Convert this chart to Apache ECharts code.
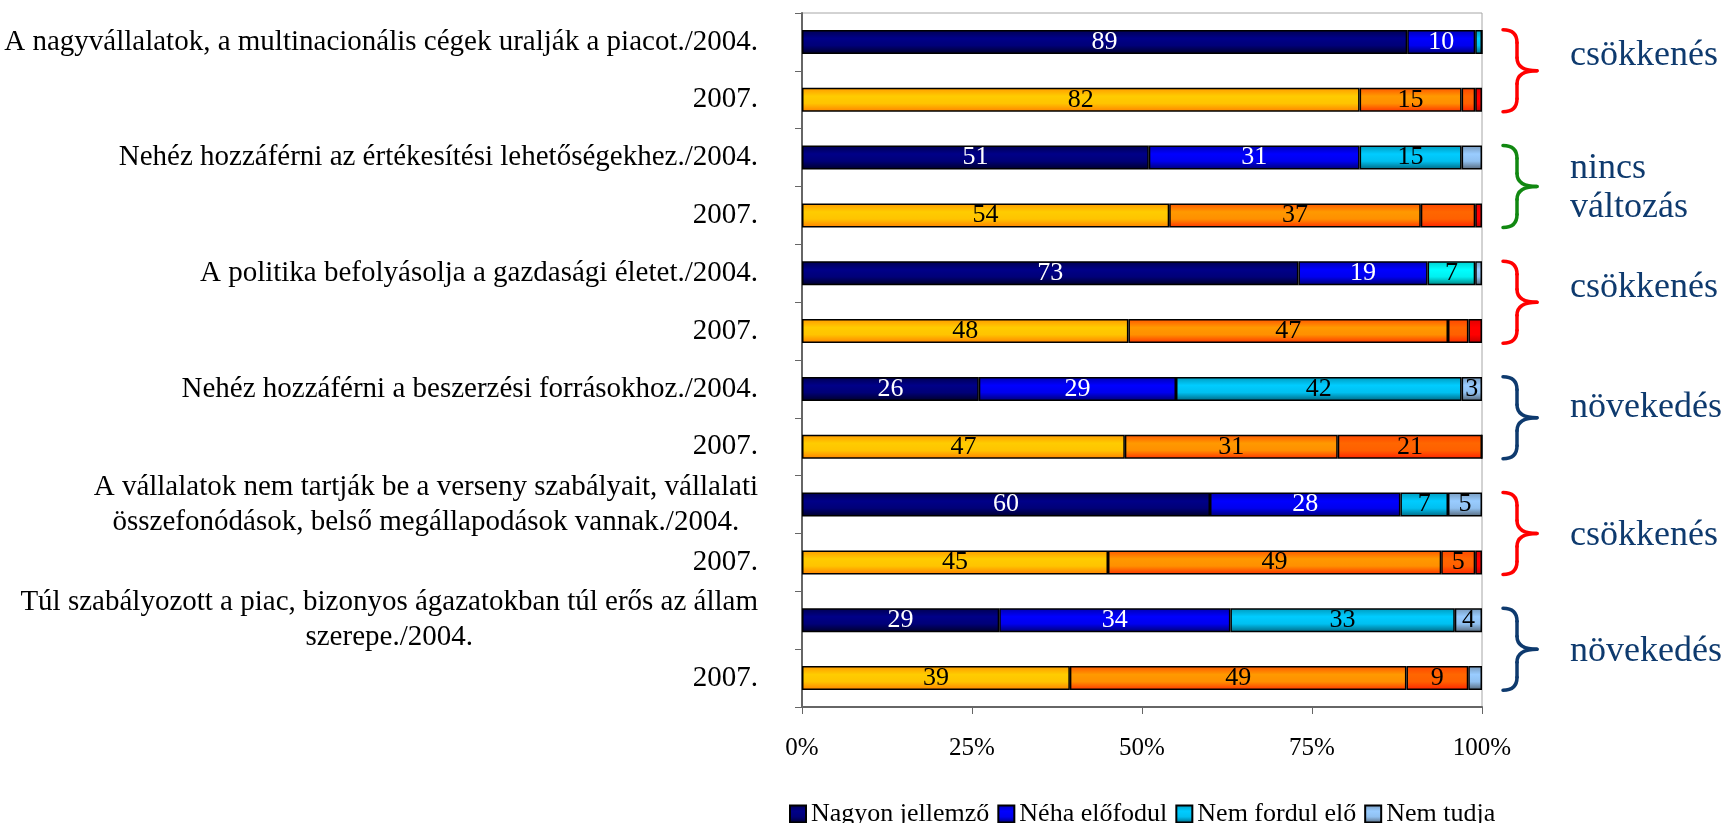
<!DOCTYPE html>
<html>
<head>
<meta charset="utf-8">
<script src="https://cdn.jsdelivr.net/npm/echarts@6/dist/echarts.min.js"></script>
<style>
  html, body { margin: 0; padding: 0; background: #fff; }
  #main { width: 1730px; height: 823px; }
</style>
</head>
<body>
<div id="main"></div>
<script>
// categories, top to bottom
const categories = [
  'A nagyvállalatok, a multinacionális cégek uralják a piacot./2004.',
  '2007.',
  'Nehéz hozzáférni az értékesítési lehetőségekhez./2004.',
  '2007.',
  'A politika befolyásolja a gazdasági életet./2004.',
  '2007.',
  'Nehéz hozzáférni a beszerzési forrásokhoz./2004.',
  '2007.',
  'A vállalatok nem tartják be a verseny szabályait, vállalati\nösszefonódások, belső megállapodások vannak./2004.',
  '2007.',
  'Túl szabályozott a piac, bizonyos ágazatokban túl erős az állam\nszerepe./2004.',
  '2007.'
]

const seriesNames = ['Nagyon jellemző', 'Néha előfodul', 'Nem fordul elő', 'Nem tudja']

const nagyonJellemzo = [89, 82, 51, 54, 73, 48, 26, 47, 60, 45, 29, 39]
const nehaElofodul = [10, 15, 31, 37, 19, 47, 29, 31, 28, 49, 34, 49]
const nemFordulElo = [1, 2, 15, 8, 7, 3, 42, 21, 7, 5, 33, 9]
const nemTudja = [0, 1, 3, 1, 1, 2, 3, 0, 5, 1, 4, 2]

// labels the original chart leaves out: [row, series]
const hiddenLabels = [[2, 3], [3, 2], [5, 2]]

const xTicks = [0, 25, 50, 75, 100]

// annotation braces on the right
const noteRows = [[0, 1], [2, 3], [4, 5], [6, 7], [8, 9], [10, 11]]
const noteTexts = ['csökkenés', 'nincs\nváltozás', 'csökkenés', 'növekedés', 'csökkenés', 'növekedés']
const noteBraceColors = ['#FF0000', '#118811', '#FF0000', '#0E3A6E', '#FF0000', '#0E3A6E']
const noteTextShift = [-15, 2, -15, -10, 2, 2]

const FONT = 'Liberation Serif'

function grad(stops) {
  return new echarts.graphic.LinearGradient(0, 0, 0, 1, [
    { offset: 0, color: stops[0] },
    { offset: 0.35, color: stops[1] },
    { offset: 0.65, color: stops[2] },
    { offset: 1, color: stops[3] }
  ])
}

const fills = {
  navy: grad(['#000050', '#000088', '#000078', '#000028']),
  blue: grad(['#0000B0', '#0000FF', '#0000EE', '#000070']),
  cyan: grad(['#0099BB', '#00CCFF', '#00C0F0', '#006680']),
  cyanBright: grad(['#00CCCC', '#00FFFF', '#00F0F0', '#008080']),
  light: grad(['#7799BB', '#99CCFF', '#90C0F0', '#556677']),
  yellow: grad(['#FF9900', '#FFCC00', '#FFC400', '#FF8000']),
  orange: grad(['#FF5500', '#FF9900', '#FF9000', '#FF3300']),
  darkorange: grad(['#FF4400', '#FF6600', '#FF6000', '#FF2200']),
  red: grad(['#E00000', '#FF0000', '#FF0000', '#C00000'])
}

const p2004 = ['navy', 'blue', 'cyan', 'light']
const p2007 = ['yellow', 'orange', 'darkorange', 'red']
const rowPalettes = [
  p2004, p2007, p2004, p2007,
  ['navy', 'blue', 'cyanBright', 'light'], p2007,
  p2004, p2007, p2004, p2007,
  p2004, ['yellow', 'orange', 'darkorange', 'light']
]

const rawSeries = [nagyonJellemzo, nehaElofodul, nemFordulElo, nemTudja]

// 100% stacked: each row is scaled to its own total
const rowTotals = categories.map((c, i) => rawSeries.reduce((s, arr) => s + arr[i], 0))

function labelHidden(i, si) {
  return hiddenLabels.some(h => h[0] === i && h[1] === si)
}

const series = rawSeries.map((arr, si) => ({
  name: seriesNames[si],
  type: 'bar',
  stack: 'total',
  barWidth: 24,
  itemStyle: {
    color: fills[p2004[si]],
    borderColor: '#000',
    borderWidth: 1.5
  },
  label: {
    show: true,
    position: 'inside',
    fontFamily: FONT,
    fontSize: 26,
    formatter: p => p.data.raw
  },
  data: arr.map((v, i) => {
    const is2004 = i % 2 === 0
    return {
      value: v / rowTotals[i] * 100,
      raw: v,
      itemStyle: { color: fills[rowPalettes[i][si]] },
      label: {
        show: v >= 3 && !labelHidden(i, si),
        color: is2004 && si < 2 ? '#fff' : '#000'
      }
    }
  })
}))

const chart = echarts.init(document.getElementById('main'))

const option = {
  animation: false,
  backgroundColor: '#fff',
  grid: {
    left: 802,
    right: 248,
    top: 13,
    bottom: 116,
    show: true,
    borderColor: '#A6A6A6',
    borderWidth: 1
  },
  legend: {
    data: seriesNames,
    left: 784,
    top: 796,
    icon: 'rect',
    itemWidth: 16,
    itemHeight: 17,
    itemGap: 8,
    textStyle: { fontFamily: FONT, fontSize: 26, color: '#000' }
  },
  xAxis: {
    type: 'value',
    min: xTicks[0],
    max: xTicks[xTicks.length - 1],
    interval: 25,
    axisLine: { show: true, lineStyle: { color: '#666', width: 2 } },
    axisTick: { show: true, length: 7, lineStyle: { color: '#666', width: 1 } },
    axisLabel: {
      margin: 29,
      fontFamily: FONT,
      fontSize: 25,
      color: '#000',
      formatter: '{value}%'
    },
    splitLine: { show: false }
  },
  yAxis: {
    type: 'category',
    inverse: true,
    data: categories,
    axisLine: { show: true, lineStyle: { color: '#666', width: 2 } },
    axisTick: { show: true, length: 7, alignWithLabel: false, lineStyle: { color: '#666', width: 1 } },
    axisLabel: {
      margin: 44,
      align: 'right',
      fontFamily: FONT,
      fontSize: 29,
      color: '#000',
      formatter: v => v.split('\n').map(l => '{c|' + l + '}').join('\n'),
      rich: {
        c: { align: 'center', fontFamily: FONT, fontSize: 29, lineHeight: 35, color: '#000' }
      }
    },
    splitLine: { show: false }
  },
  series: series
}

chart.setOption(option)

// braces + notes, placed from the category axis
function braceParts(x0, xm, x1, y0, y1, color) {
  const yc = (y0 + y1) / 2
  const r = 13
  const st = { stroke: color, lineWidth: 3.5, fill: null, lineCap: 'round' }
  return [
    { type: 'bezierCurve', shape: { x1: x0, y1: y0, cpx1: xm, cpy1: y0, x2: xm, y2: y0 + r }, style: st },
    { type: 'line', shape: { x1: xm, y1: y0 + r, x2: xm, y2: yc - r }, style: st },
    { type: 'bezierCurve', shape: { x1: xm, y1: yc - r, cpx1: xm, cpy1: yc, x2: x1, y2: yc }, style: st },
    { type: 'bezierCurve', shape: { x1: x1, y1: yc, cpx1: xm, cpy1: yc, x2: xm, y2: yc + r }, style: st },
    { type: 'line', shape: { x1: xm, y1: yc + r, x2: xm, y2: y1 - r }, style: st },
    { type: 'bezierCurve', shape: { x1: xm, y1: y1 - r, cpx1: xm, cpy1: y1, x2: x0, y2: y1 }, style: st }
  ]
}

let graphics = []
noteRows.forEach((rows, k) => {
  const yA = chart.convertToPixel({ yAxisIndex: 0 }, rows[0])
  const yB = chart.convertToPixel({ yAxisIndex: 0 }, rows[1])
  const mid = (yA + yB) / 2
  const half = 41
  graphics = graphics.concat(braceParts(1503, 1517, 1537, mid - half, mid + half, noteBraceColors[k]))
  graphics.push({
    type: 'text',
    x: 1570,
    y: mid + noteTextShift[k],
    style: {
      text: noteTexts[k],
      fill: '#0E3A6E',
      font: '36px "' + FONT + '"',
      lineHeight: 39,
      verticalAlign: 'middle',
      align: 'left'
    }
  })
})

chart.setOption({ graphic: graphics })
</script>
</body>
</html>
